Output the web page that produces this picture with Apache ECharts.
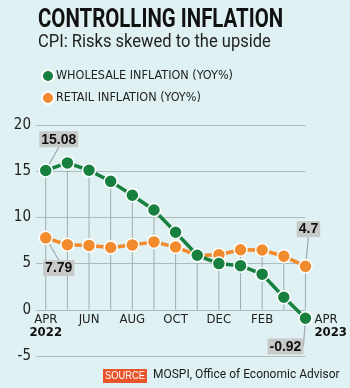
<!DOCTYPE html>
<html>
<head>
<meta charset="utf-8">
<script src="https://cdn.jsdelivr.net/npm/echarts@6/dist/echarts.min.js"></script>
<style>
  html, body { margin: 0; padding: 0; background: #dff1f2; }
  #chartID { width: 350px; height: 388px; }
</style>
</head>
<body>
<div id="chartID"></div>
<script>
// months Apr 2022 .. Apr 2023
var gMonthArray = ['APR', 'MAY', 'JUN', 'JUL', 'AUG', 'SEP', 'OCT', 'NOV', 'DEC', 'JAN', 'FEB', 'MAR', 'APR'];
var gYearArray = ['2022', '', '', '', '', '', '', '', '', '2023', '', '', '2023'];
var gWholesaleArray = [15.08, 15.9, 15.1, 13.9, 12.4, 10.8, 8.39, 5.9, 5.0, 4.78, 3.86, 1.36, -0.92];
var gRetailArray = [7.79, 7.04, 6.97, 6.74, 7.02, 7.35, 6.8, 5.88, 5.95, 6.5, 6.47, 5.8, 4.7];
var gLabelTicks = [0, 2, 4, 6, 8, 10, 12];

var FONT_N = '"DejaVu Sans Condensed", "Liberation Sans Narrow", sans-serif';
var GREEN = '#18803f';
var ORANGE = '#f28a2e';

var myChart = echarts.init(document.getElementById('chartID'));

var toPairs = function(arr){
  var out = [];
  for (var i = 0; i < arr.length; i++) {
    out.push([i, arr[i]]);
  }
  return out;
};

// drop lines go from the higher of the two points down to zero
var dropData = [];
for (var i = 0; i < gWholesaleArray.length; i++) {
  dropData.push([i, Math.max(gWholesaleArray[i], gRetailArray[i])]);
}

var boxLabel = function(pos){
  return {
    show: true,
    position: pos,
    distance: 5,
    backgroundColor: '#c8c9c9',
    padding: [1, 2, 0, 2],
    color: '#111',
    fontSize: 14,
    fontWeight: 'bold',
    fontFamily: '"Liberation Sans", Arial, sans-serif',
    lineHeight: 15
  };
};

var wholesaleData = toPairs(gWholesaleArray);
wholesaleData[0] = { value: wholesaleData[0], label: boxLabel('top') };
wholesaleData[12] = { value: wholesaleData[12], label: boxLabel('bottom') };

var retailData = toPairs(gRetailArray);
retailData[0] = { value: retailData[0], label: boxLabel('bottom') };
retailData[12] = { value: retailData[12], label: boxLabel('top') };

// label shifts (dx, dy) by data index
var wholesaleShift = { 0: [13, -11], 12: [-20, 8] };
var retailShift = { 0: [13, 10], 12: [3, -17] };

var shiftLayout = function(shifts){
  return function(params){
    var s = shifts[params.dataIndex];
    return s ? { dx: s[0], dy: s[1] } : {};
  };
};

option = {
  backgroundColor: '#dff1f2',
  animation: false,
  legend: {
    data: ['WHOLESALE INFLATION (YOY%)', 'RETAIL INFLATION (YOY%)'],
    orient: 'vertical',
    left: 41,
    top: 69,
    padding: 0,
    itemGap: 8,
    itemWidth: 12,
    itemHeight: 12,
    icon: 'circle',
    textStyle: {
      fontFamily: FONT_N,
      fontSize: 12.5,
      color: '#222',
      padding: [0, 0, 0, -3]
    }
  },
  grid: {
    left: 36,
    right: 42,
    top: 125,
    bottom: 32
  },
  xAxis: {
    type: 'value',
    min: -0.45,
    max: 12,
    position: 'bottom',
    offset: -46,
    splitLine: { show: false },
    axisTick: { show: false },
    axisLine: { show: false, onZero: false },
    axisLabel: {
      customValues: gLabelTicks,
      showMaxLabel: true,
      showMinLabel: true,
      hideOverlap: false,
      alignMaxLabel: 'left',
      margin: 3,
      fontFamily: FONT_N,
      fontSize: 13,
      color: '#222',
      lineHeight: 13,
      formatter: function(v){
        var m = gMonthArray[v];
        if (v === 0) {
          return m + '\n{y|' + gYearArray[v] + '}';
        }
        if (v === 12) {
          return '{r|' + m + '}\n{ry|' + gYearArray[v] + '}';
        }
        return m;
      },
      rich: {
        y: { fontFamily: FONT_N, fontSize: 13, fontWeight: 'bold', color: '#111', lineHeight: 13 },
        r: { fontFamily: FONT_N, fontSize: 13, color: '#222', lineHeight: 13, padding: [0, 0, 0, 9] },
        ry: { fontFamily: FONT_N, fontSize: 13, fontWeight: 'bold', color: '#111', lineHeight: 13, padding: [0, 0, 0, 9] }
      }
    }
  },
  yAxis: {
    type: 'value',
    min: -5,
    max: 20,
    interval: 5,
    axisLine: { show: false },
    axisTick: { show: false },
    splitLine: { lineStyle: { color: '#aebcbd', width: 1 } },
    axisLabel: {
      margin: 5,
      fontFamily: FONT_N,
      fontSize: 15,
      color: '#222'
    }
  },
  series: [
    {
      name: 'drop',
      type: 'bar',
      barWidth: 1,
      silent: true,
      z: 1,
      itemStyle: { color: '#9fadae' },
      data: dropData
    },
    {
      name: 'WHOLESALE INFLATION (YOY%)',
      type: 'line',
      z: 3,
      color: GREEN,
      symbol: 'circle',
      symbolSize: 13,
      lineStyle: { width: 3.5, color: GREEN },
      itemStyle: { color: GREEN, borderColor: '#fff', borderWidth: 1.5 },
      labelLine: { show: true, lineStyle: { color: '#a3a6a6', width: 1.2 } },
      labelLayout: shiftLayout(wholesaleShift),
      data: wholesaleData
    },
    {
      name: 'RETAIL INFLATION (YOY%)',
      type: 'line',
      z: 2,
      color: ORANGE,
      symbol: 'circle',
      symbolSize: 13,
      lineStyle: { width: 3.5, color: ORANGE },
      itemStyle: { color: ORANGE, borderColor: '#fff', borderWidth: 1.5 },
      labelLine: { show: true, lineStyle: { color: '#a3a6a6', width: 1.2 } },
      labelLayout: shiftLayout(retailShift),
      data: retailData
    }
  ],
  graphic: [
    {
      type: 'text',
      x: 38,
      y: 7,
      scaleX: 0.785,
      style: {
        text: 'CONTROLLING INFLATION',
        fill: '#111',
        font: 'bold 26px Roboto, "Liberation Sans", sans-serif'
      }
    },
    {
      type: 'text',
      x: 38,
      y: 33,
      scaleX: 0.87,
      style: {
        text: 'CPI: Risks skewed to the upside',
        fill: '#222',
        font: '19px Roboto, "Liberation Sans", sans-serif'
      }
    },
    {
      type: 'rect',
      x: 103,
      y: 369,
      shape: { width: 44, height: 14 },
      style: { fill: '#e9542b' }
    },
    {
      type: 'text',
      x: 105,
      y: 370.5,
      scaleX: 0.85,
      style: {
        text: 'SOURCE',
        fill: '#fff',
        font: '11px "Liberation Sans", Arial, sans-serif'
      }
    },
    {
      type: 'text',
      x: 153,
      y: 369,
      style: {
        text: 'MOSPI, Office of Economic Advisor',
        fill: '#1a1a1a',
        font: '12px Roboto, "Liberation Sans", sans-serif'
      }
    }
  ]
};

myChart.setOption(option);
</script>
</body>
</html>
